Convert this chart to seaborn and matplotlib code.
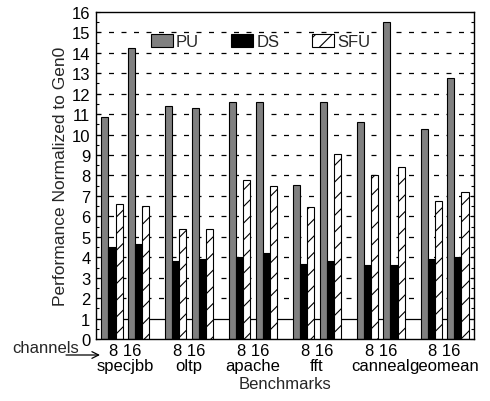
import numpy as np
import pandas as pd
import matplotlib
matplotlib.use("Agg")
import matplotlib.pyplot as plt
import seaborn as sns
from matplotlib.ticker import MultipleLocator

benchmarks = ["specjbb", "oltp", "apache", "fft", "canneal", "geomean"]
channels = ["8", "16"]
series = ["PU", "DS", "SFU"]
pu = [10.85, 14.25, 11.4, 11.3, 11.6, 11.6, 7.55, 11.6, 10.6, 15.5, 10.27, 12.77]
ds = [4.5, 4.65, 3.8, 3.9, 4.0, 4.2, 3.67, 3.8, 3.62, 3.62, 3.9, 4.0]
sfu = [6.6, 6.5, 5.38, 5.4, 7.8, 7.5, 6.45, 9.05, 8.0, 8.4, 6.75, 7.2]

bench_pitch = 2.4
rows = []
for i, b in enumerate(benchmarks):
    for j, c in enumerate(channels):
        k = i * 2 + j
        pos = i * bench_pitch + j
        for s, vals in zip(series, [pu, ds, sfu]):
            rows.append({"pos": pos, "series": s, "value": vals[k]})
df = pd.DataFrame(rows)

sns.set_theme(style="white")
plt.rcParams["font.family"] = ["Liberation Sans", "DejaVu Sans"]
plt.rcParams["hatch.linewidth"] = 0.8

fig = plt.figure(figsize=(4.9, 4.02), dpi=100)
ax = fig.add_axes([0.196, 0.154, 0.771, 0.814])

# grid lines
for yv in range(2, 16):
    ax.axhline(yv, color="black", linestyle=(0, (4, 6)), linewidth=0.9, zorder=0)
ax.axhline(1, color="black", linewidth=0.9, zorder=0)

sns.barplot(data=df, x="pos", y="value", hue="series", hue_order=series,
            palette=["#808080", "#000000", "#ffffff"], native_scale=True,
            width=0.8, edgecolor="black", linewidth=0.8, errorbar=None,
            saturation=1, legend=False, ax=ax, zorder=2)

for p in ax.containers[2].patches:
    p.set_hatch("//")

ax.set_ylim(0, 16)
ax.set_xlim(-0.6, 5 * bench_pitch + 1 + 0.6)
ax.yaxis.set_major_locator(MultipleLocator(1))
ax.yaxis.set_minor_locator(MultipleLocator(0.5))
ax.tick_params(axis="y", which="both", direction="in", left=True, right=True,
               labelsize=12, pad=4, colors="black")
ax.tick_params(axis="y", which="major", length=3, width=0.8)
ax.tick_params(axis="y", which="minor", length=2, width=0.8)
centers = [i * bench_pitch + 0.5 for i in range(len(benchmarks))]
ax.set_xticks(centers)
ax.set_xticklabels(["8 16\n" + b for b in benchmarks], fontsize=12, linespacing=1.0)
ax.tick_params(axis="x", length=0, pad=3, colors="black")
for sp in ax.spines.values():
    sp.set_color("black")
    sp.set_linewidth(1.0)

ax.set_ylabel("Performance Normalized to Gen0", fontsize=12.5, labelpad=3)
ax.set_xlabel("Benchmarks", fontsize=12, labelpad=2)

ax.legend(ax.containers, series, loc="center left",
          bbox_to_anchor=((150 - 95) / 379, 1 - (43 - 13) / 327),
          ncol=3, frameon=False, fontsize=12, handlelength=1.3, handleheight=0.75,
          handletextpad=0.2, columnspacing=1.95, borderpad=0, borderaxespad=0)

fig.text(12 / 490, 1 - 349 / 402, "channels", fontsize=12, va="center", ha="left")
ax.annotate("", xy=(100 / 490, 1 - 356 / 402), xycoords="figure fraction",
            xytext=(66 / 490, 1 - 356 / 402), textcoords="figure fraction",
            arrowprops=dict(arrowstyle="->", color="black", lw=0.9, shrinkA=0, shrinkB=0))

fig.savefig("out.png", dpi=100)
